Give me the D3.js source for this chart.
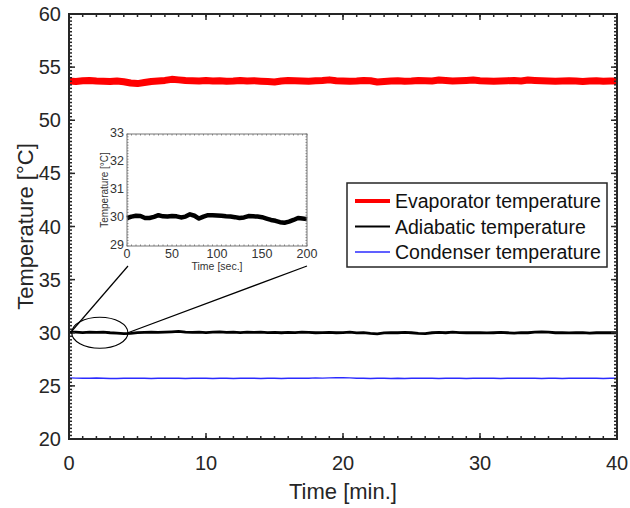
<!DOCTYPE html>
<html><head><meta charset="utf-8">
<script src="https://cdn.jsdelivr.net/npm/d3@7"></script>
<style>
html,body{margin:0;padding:0;background:#fff;}
svg{display:block;font-family:"Liberation Sans",Arial,Helvetica,sans-serif;}
</style></head>
<body><svg id="c" width="630" height="508"></svg>
<script>
// ---------- data ----------
const timeMin = d3.range(0, 40.001, 0.5); // 81 samples, minutes
const evaporator = [
 53.70,53.65,53.72,53.75,53.70,53.68,53.65,53.70,53.62,53.50,
 53.45,53.55,53.65,53.70,53.75,53.85,53.80,53.75,53.72,53.70,
 53.75,53.70,53.72,53.68,53.70,53.75,53.70,53.72,53.68,53.65,
 53.60,53.70,53.75,53.72,53.70,53.68,53.72,53.75,53.80,53.72,
 53.70,53.68,53.70,53.75,53.72,53.60,53.65,53.70,53.72,53.68,
 53.70,53.75,53.72,53.70,53.78,53.75,53.70,53.72,53.75,53.78,
 53.72,53.70,53.68,53.70,53.72,53.75,53.70,53.78,53.75,53.72,
 53.70,53.68,53.70,53.72,53.70,53.65,53.70,53.72,53.68,53.70,
 53.70];
const adiabatic = [
 30.05,30.05,30.02,30.05,30.03,30.05,30.00,29.97,29.92,29.95,
 30.02,30.03,30.05,30.03,30.05,30.08,30.12,30.05,30.03,30.05,
 30.02,30.05,30.08,30.03,30.05,30.02,30.05,30.03,30.06,30.02,
 30.03,30.00,30.03,30.02,30.05,30.03,30.00,30.02,30.03,30.00,
 30.02,30.05,29.98,30.02,29.95,29.90,29.98,30.02,30.00,30.03,
 30.00,29.95,29.92,30.00,30.03,30.00,30.05,30.02,30.00,30.02,
 30.00,29.98,30.00,30.03,30.00,29.97,30.02,30.00,30.05,30.08,
 30.05,30.00,30.02,29.98,30.00,30.02,29.97,30.00,30.02,30.00,
 30.00];
const condenser = [
 25.75,25.73,25.72,25.72,25.74,25.72,25.70,25.70,25.72,25.73,
 25.72,25.72,25.70,25.72,25.73,25.72,25.72,25.70,25.72,25.73,
 25.72,25.70,25.72,25.72,25.70,25.72,25.73,25.72,25.70,25.72,
 25.72,25.70,25.72,25.73,25.72,25.72,25.75,25.73,25.75,25.78,
 25.77,25.75,25.72,25.72,25.70,25.72,25.72,25.70,25.72,25.70,
 25.72,25.72,25.73,25.72,25.70,25.72,25.72,25.72,25.70,25.72,
 25.72,25.73,25.72,25.70,25.72,25.72,25.73,25.72,25.72,25.70,
 25.72,25.72,25.70,25.72,25.72,25.73,25.72,25.72,25.70,25.72,
 25.72];
const insetTimeSec = d3.range(0, 200.001, 5); // 41 samples, seconds
const insetAdiabatic = [
 30.00,30.05,30.08,30.07,30.00,30.00,30.04,30.10,30.06,30.05,
 30.07,30.06,30.02,30.05,30.13,30.08,29.98,30.05,30.10,30.10,
 30.09,30.08,30.06,30.05,30.03,30.00,30.02,30.07,30.06,30.05,
 30.03,29.98,29.93,29.90,29.85,29.83,29.87,29.93,30.00,29.98,
 29.96];
const xTicks = [0,10,20,30,40];
const yTicks = [20,25,30,35,40,45,50,55,60];
const insetXTicks = [0,50,100,150,200];
const insetYTicks = [29,30,31,32,33];
const seriesNames = ["Evaporator temperature","Adiabatic temperature","Condenser temperature"];
const seriesColors = ["#ff0000","#000000","#2b2bff"];
const seriesWidths = [7,2.8,1.4];

// ---------- layout ----------
const svg = d3.select("#c");
const L=69, R=617, T=14, B=439;
const axisColor = "#262626";
const x = d3.scaleLinear().domain([0,40]).range([L,R]);
const y = d3.scaleLinear().domain([20,60]).range([B,T]);

// series
const series = [evaporator, adiabatic, condenser];
series.forEach((vals,i)=>{
  const line = d3.line().x((d,j)=>x(timeMin[j])).y(d=>y(d));
  svg.append("path").datum(vals).attr("d",line).attr("fill","none")
    .attr("stroke",seriesColors[i]).attr("stroke-width",seriesWidths[i])
    .attr("stroke-linejoin","round");
});

// ticks (inward, all four sides)
function ticks(g, vals, len, orient){
  vals.forEach(v=>{
    if(orient==="b") g.append("line").attr("x1",x(v)).attr("x2",x(v)).attr("y1",B).attr("y2",B-len);
    if(orient==="t") g.append("line").attr("x1",x(v)).attr("x2",x(v)).attr("y1",T).attr("y2",T+len);
    if(orient==="l") g.append("line").attr("y1",y(v)).attr("y2",y(v)).attr("x1",L).attr("x2",L+len);
    if(orient==="r") g.append("line").attr("y1",y(v)).attr("y2",y(v)).attr("x1",R).attr("x2",R-len);
  });
}
const tg = svg.append("g").attr("stroke",axisColor).attr("stroke-width",1.5);
const xMinor = d3.range(0,40.001,1);
const yMinor = d3.range(20,60.001,5/15);
["b","t"].forEach(o=>{ticks(tg,xMinor,3,o); ticks(tg,xTicks,6,o);});
["l","r"].forEach(o=>{ticks(tg,yMinor,3,o); ticks(tg,yTicks,6,o);});
svg.append("rect").attr("x",L).attr("y",T).attr("width",R-L).attr("height",B-T)
  .attr("fill","none").attr("stroke",axisColor).attr("stroke-width",2);

// tick labels
svg.append("g").selectAll("text").data(xTicks).join("text")
  .attr("x",d=>x(d)).attr("y",470).attr("text-anchor","middle")
  .attr("font-size",20).attr("fill",axisColor).text(d=>d);
svg.append("g").selectAll("text").data(yTicks).join("text")
  .attr("x",61).attr("y",d=>y(d)+7).attr("text-anchor","end")
  .attr("font-size",20).attr("fill",axisColor).text(d=>d);
svg.append("text").attr("x",(L+R)/2).attr("y",499).attr("text-anchor","middle")
  .attr("font-size",22).attr("fill",axisColor).text("Time [min.]");
svg.append("text").attr("transform",`translate(33,${(T+B)/2}) rotate(-90)`)
  .attr("text-anchor","middle").attr("font-size",22).attr("fill",axisColor).text("Temperature [°C]");

// ellipse + zoom lines
const ex0 = x(0.2), ex1 = x(4.3), ecy = y(30);
svg.append("ellipse").attr("cx",(ex0+ex1)/2).attr("cy",ecy).attr("rx",(ex1-ex0)/2).attr("ry",15.5)
  .attr("fill","none").attr("stroke","#000").attr("stroke-width",1.2);
svg.append("line").attr("x1",x(0.1)).attr("y1",ecy).attr("x2",128).attr("y2",266).attr("stroke","#000").attr("stroke-width",1.2);
svg.append("line").attr("x1",ex1).attr("y1",ecy).attr("x2",307).attr("y2",266).attr("stroke","#000").attr("stroke-width",1.2);

// inset
const iL=127, iR=307, iT=134, iB=246;
const ix = d3.scaleLinear().domain([0,200]).range([iL,iR]);
const iy = d3.scaleLinear().domain([29,33]).range([iB,iT]);
svg.append("rect").attr("x",iL).attr("y",iT).attr("width",iR-iL).attr("height",iB-iT).attr("fill","#fff");
svg.append("path").datum(insetAdiabatic)
  .attr("d",d3.line().x((d,j)=>ix(insetTimeSec[j])).y(d=>iy(d)))
  .attr("fill","none").attr("stroke","#000").attr("stroke-width",4.5).attr("stroke-linejoin","round");
const ig = svg.append("g").attr("stroke","#666").attr("stroke-width",0.8);
d3.range(0,200.001,5).forEach(v=>{
  ig.append("line").attr("x1",ix(v)).attr("x2",ix(v)).attr("y1",iB).attr("y2",iB-1.5);
  ig.append("line").attr("x1",ix(v)).attr("x2",ix(v)).attr("y1",iT).attr("y2",iT+1.5);
});
d3.range(29,33.001,0.1).forEach(v=>{
  ig.append("line").attr("y1",iy(v)).attr("y2",iy(v)).attr("x1",iL).attr("x2",iL+1.5);
  ig.append("line").attr("y1",iy(v)).attr("y2",iy(v)).attr("x1",iR).attr("x2",iR-1.5);
});
svg.append("rect").attr("x",iL).attr("y",iT).attr("width",iR-iL).attr("height",iB-iT)
  .attr("fill","none").attr("stroke","#777").attr("stroke-width",1);
svg.append("g").selectAll("text").data(insetXTicks).join("text")
  .attr("x",d=>ix(d)).attr("y",iB+12).attr("text-anchor","middle")
  .attr("font-size",12.5).attr("fill","#333").text(d=>d);
svg.append("g").selectAll("text").data(insetYTicks).join("text")
  .attr("x",iL-3).attr("y",d=>iy(d)+3).attr("text-anchor","end")
  .attr("font-size",12.5).attr("fill","#333").text(d=>d);
svg.append("text").attr("x",(iL+iR)/2).attr("y",iB+24).attr("text-anchor","middle")
  .attr("font-size",10.5).attr("fill","#333").text("Time [sec.]");
svg.append("text").attr("transform",`translate(108,${(iT+iB)/2}) rotate(-90)`)
  .attr("text-anchor","middle").attr("font-size",10).attr("fill","#333").text("Temperature [°C]");

// legend
const lg = svg.append("g");
lg.append("rect").attr("x",347).attr("y",183).attr("width",260).attr("height",84)
  .attr("fill","#fff").attr("stroke",axisColor).attr("stroke-width",1.5);
seriesNames.forEach((n,i)=>{
  const yy = 201 + i*25.5;
  lg.append("line").attr("x1",355).attr("x2",390).attr("y1",yy).attr("y2",yy)
    .attr("stroke",seriesColors[i]).attr("stroke-width",[4,2,1.4][i]);
  lg.append("text").attr("x",395).attr("y",yy+7).attr("font-size",19.5).attr("fill","#111").text(n);
});
</script></body></html>
